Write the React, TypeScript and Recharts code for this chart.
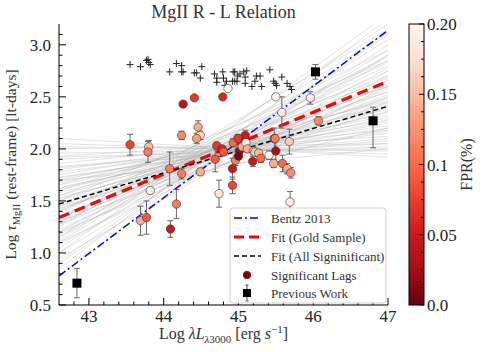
import React from "react";
import { ComposedChart, Line, Scatter, ErrorBar, XAxis, YAxis } from "recharts";

// axis ranges and ticks
const X_DOMAIN = [42.6, 47];
const Y_DOMAIN = [0.5, 3.2];
const X_MAJOR = [43, 44, 45, 46, 47];
const X_TICKS = [
  42.8, 43, 43.2, 43.4, 43.6, 43.8, 44, 44.2, 44.4, 44.6, 44.8, 45, 45.2, 45.4, 45.6, 45.8, 46,
  46.2, 46.4, 46.6, 46.8, 47,
];
const Y_MAJOR = [0.5, 1, 1.5, 2, 2.5, 3];
const Y_TICKS = [
  0.5, 0.6, 0.7, 0.8, 0.9, 1, 1.1, 1.2, 1.3, 1.4, 1.5, 1.6, 1.7, 1.8, 1.9, 2, 2.1, 2.2, 2.3, 2.4,
  2.5, 2.6, 2.7, 2.8, 2.9, 3, 3.1,
];
const CBAR_MAJOR = [0, 0.05, 0.1, 0.15, 0.2];
const CBAR_LABELS = ["0.0", "0.05", "0.1", "0.15", "0.20"];
const CBAR_MINOR = [0.0125, 0.025, 0.0375, 0.0625, 0.075, 0.0875, 0.1125, 0.125, 0.1375, 0.1625, 0.175, 0.1875];

// fit lines: values at the left and right edge of the plot
const LINE_X = [42.6, 47];
const BENTZ = [0.78, 3.14];
const FIT_GOLD = [1.34, 2.65];
const FIT_ALL = [1.47, 2.41];

// bootstrap realisations (grey fan), left / right end values
const BOOT_LEFT = [
  0.85, 0.92, 1.0, 1.05, 1.1, 1.15, 1.2, 1.22, 1.28, 1.3, 1.33, 1.36, 1.4, 1.42, 1.45, 1.48, 1.5,
  1.52, 1.55, 1.58, 1.6, 1.62, 1.65, 1.68, 1.7, 1.72, 1.75, 1.78, 1.8, 1.83, 1.86, 1.9, 1.93, 1.96,
  2.0, 2.05, 2.1, 1.25, 1.15, 0.95, 1.38, 1.5, 1.1, 1.3, 1.6, 1.7, 1.45, 1.2, 1.0, 1.55,
  0.9, 1.08, 1.18, 1.27, 1.35, 1.43, 1.53, 1.63, 1.73, 1.82, 1.92, 2.02, 1.12, 1.4, 1.66, 1.32,
];
const BOOT_RIGHT = [
  3.25, 3.1, 3.3, 2.95, 3.05, 2.85, 2.9, 2.7, 2.8, 2.62, 2.75, 2.55, 2.68, 2.5, 2.6, 2.45, 2.55, 2.4,
  2.48, 2.35, 2.42, 2.3, 2.38, 2.25, 2.32, 2.2, 2.28, 2.15, 2.22, 2.1, 2.18, 2.05, 2.12, 2.0, 2.05,
  1.95, 1.92, 3.15, 3.2, 2.75, 2.95, 2.85, 2.6, 2.4, 2.6, 2.0, 2.2, 2.5, 2.9, 2.7,
  3.0, 2.78, 2.66, 2.58, 2.52, 2.44, 2.36, 2.27, 2.17, 2.08, 2.02, 1.98, 3.12, 2.83, 2.46, 2.88,
];

// significant lags
const LAG_X = [
  44.26, 44.41, 44.79, 44.86, 43.55, 43.8, 43.79, 44.24, 44.46, 44.49, 44.44, 45.09, 43.82, 43.69,
  43.77, 44.09, 44.08, 44.17, 44.24, 44.49, 44.69, 44.71, 44.78, 44.8, 44.74, 44.92, 44.92, 44.93,
  44.96, 44.99, 45.01, 45.0, 45.05, 45.1, 45.12, 45.19, 45.2, 45.22, 45.27, 45.3, 45.41, 45.47,
  45.48, 45.5, 45.59, 45.65, 45.68, 45.7, 45.69, 45.5, 45.58, 45.96, 46.07, 45.49,
];
const LAG_Y = [
  2.43, 2.49, 2.5, 2.58, 2.04, 2.02, 1.97, 2.13, 2.21, 2.13, 2.1, 2.13, 1.6, 1.31, 1.34, 1.23, 1.81,
  1.47, 1.76, 1.78, 1.9, 2.03, 2.0, 1.97, 1.57, 1.81, 1.65, 2.06, 1.89, 2.1, 1.98, 1.93, 2.02, 2.06,
  2.0, 1.88, 1.98, 1.97, 1.96, 1.91, 1.94, 1.86, 2.1, 1.98, 1.86, 1.81, 2.07, 1.77, 1.49, 2.5, 2.35,
  2.49, 2.27, 2.1,
];
const LAG_ERR = [
  0, 0, 0, 0, 0.1, 0.06, 0.1, 0.04, 0.06, 0.04, 0.05, 0.05, 0.03, 0.14, 0.16, 0.08, 0.16, 0.14,
  0.05, 0.03, 0.12, 0.03, 0.03, 0.03, 0.13, 0.1, 0.08, 0.04, 0.05, 0.04, 0.03, 0.03, 0.03, 0.03, 0.03,
  0.05, 0.03, 0.03, 0.03, 0.04, 0.04, 0.04, 0.1, 0.1, 0.08, 0.05, 0.12, 0.05, 0.1, 0, 0.15, 0.06,
  0.04, 0.03,
];
const LAG_FPR = [
  0.04, 0.07, 0.06, 0.2, 0.08, 0.15, 0.11, 0.12, 0.14, 0.17, 0.13, 0.05, 0.19, 0.14, 0.09, 0.05, 0.11,
  0.11, 0.11, 0.14, 0.09, 0.07, 0.06, 0.09, 0.18, 0.05, 0.08, 0.1, 0.11, 0.07, 0.02, 0.01, 0.14, 0.19,
  0.14, 0.05, 0.15, 0.16, 0.15, 0.1, 0.2, 0.14, 0.06, 0.03, 0.1, 0.14, 0.16, 0.12, 0.19, 0.2, 0.19,
  0.19, 0.12, 0.11,
];

// non-significant lags (crosses)
const CROSS_X = [
  43.55, 43.69, 43.77, 43.79, 43.8, 43.82, 44.08, 44.17, 44.24, 44.24, 44.26, 44.41, 44.44, 44.51,
  44.49, 44.68, 44.71, 44.71, 44.79, 44.8, 44.84, 44.92, 44.93, 44.98, 44.99, 45.02, 45.09, 45.11,
  45.09, 44.82, 44.95, 45.07, 44.95, 45.18, 45.24, 45.29, 45.31, 45.22, 45.42, 45.47, 45.58, 45.49,
  45.51, 45.65, 45.69, 45.71,
];
const CROSS_Y = [
  2.81, 2.79, 2.85, 2.86, 2.83, 2.81, 2.74, 2.82, 2.8, 2.74, 2.74, 2.73, 2.73, 2.79, 2.68, 2.72, 2.68,
  2.64, 2.74, 2.68, 2.65, 2.65, 2.74, 2.65, 2.7, 2.72, 2.63, 2.75, 2.69, 2.61, 2.74, 2.74, 2.65, 2.6,
  2.7, 2.7, 2.6, 2.65, 2.76, 2.65, 2.69, 2.63, 2.61, 2.63, 2.6, 2.57,
];

// previous work
const PREV_X = [42.84, 46.03, 46.8];
const PREV_Y = [0.71, 2.74, 2.27];
const PREV_ERR: (number | number[])[] = [0.14, 0.07, [0.26, 0.13]];

const REDS = ["#fff5f0", "#fee0d2", "#fcbba1", "#fc9272", "#fb6a4a", "#ef3b2c", "#cb181d", "#a50f15", "#67000d"];

function hex(c: string) {
  return [1, 3, 5].map((i) => parseInt(c.slice(i, i + 2), 16));
}

function cmap(fpr: number) {
  const t = Math.min(1, Math.max(0, 1 - fpr / 0.2)) * (REDS.length - 1);
  const i = Math.min(REDS.length - 2, Math.floor(t));
  const f = t - i;
  const a = hex(REDS[i]);
  const b = hex(REDS[i + 1]);
  const m = a.map((v, k) => Math.round(v + (b[k] - v) * f));
  return `rgb(${m[0]},${m[1]},${m[2]})`;
}

const FONT = "Liberation Serif, DejaVu Serif, serif";
const txt = (size: number) => ({ fontFamily: FONT, fontSize: size });

const lineData = (v: number[]) => LINE_X.map((x, i) => ({ x, y: v[i] }));
const bootLines = BOOT_LEFT.map((l, i) => lineData([l, BOOT_RIGHT[i]]));
const lags = LAG_X.map((x, i) => ({ x, y: LAG_Y[i], err: LAG_ERR[i], fpr: LAG_FPR[i] }));
const crosses = CROSS_X.map((x, i) => ({ x, y: CROSS_Y[i] }));
const prev = PREV_X.map((x, i) => ({ x, y: PREV_Y[i], err: PREV_ERR[i] }));

const fmtY = (v: number) => v.toFixed(1);

function BottomTick(p: any) {
  const v = p.payload.value;
  const major = X_MAJOR.includes(v);
  return (
    <g>
      <line x1={p.x} x2={p.x} y1={p.y} y2={p.y - (major ? 7 : 3.5)} stroke="#000" />
      {major && (
        <text x={p.x} y={p.y + 17} textAnchor="middle" style={txt(17)} fill="#222">
          {v}
        </text>
      )}
    </g>
  );
}

function TopTick(p: any) {
  const major = X_MAJOR.includes(p.payload.value);
  return <line x1={p.x} x2={p.x} y1={p.y} y2={p.y + (major ? 7 : 3.5)} stroke="#000" />;
}

function LeftTick(p: any) {
  const v = p.payload.value;
  const major = Y_MAJOR.some((m) => Math.abs(m - v) < 1e-6);
  return (
    <g>
      <line x1={p.x} x2={p.x + (major ? 7 : 3.5)} y1={p.y} y2={p.y} stroke="#000" />
      {major && (
        <text x={p.x - 8} y={p.y + 6} textAnchor="end" style={txt(17)} fill="#222">
          {fmtY(v)}
        </text>
      )}
    </g>
  );
}

function RightTick(p: any) {
  const v = p.payload.value;
  const major = Y_MAJOR.some((m) => Math.abs(m - v) < 1e-6);
  return <line x1={p.x} x2={p.x - (major ? 7 : 3.5)} y1={p.y} y2={p.y} stroke="#000" />;
}

const Dot = (p: any) => (
  <circle cx={p.cx} cy={p.cy} r={4.2} fill={cmap(p.payload.fpr)} stroke="#333" strokeWidth={0.6} />
);
const Cross = (p: any) => (
  <path d={`M${p.cx - 3.5},${p.cy}h7M${p.cx},${p.cy - 3.5}v7`} stroke="#222" strokeWidth={1} />
);
const Square = (p: any) => <rect x={p.cx - 4.5} y={p.cy - 4.5} width={9} height={9} fill="#000" />;

// plot box
const L = 59;
const R = 388;
const T = 24;
const B = 305;
const W = 491;
const H = 352;

// colorbar box
const CB_X = 409;
const CB_W = 15;
const cbY = (v: number) => B - (v / 0.2) * (B - T);

function Overlay() {
  const leg = [218, 237, 256, 275, 293];
  return (
    <svg width={W} height={H} style={{ position: "absolute", left: 0, top: 0, pointerEvents: "none" }}>
      <defs>
        <linearGradient id="cbar" x1="0" y1="1" x2="0" y2="0">
          {REDS.slice()
            .reverse()
            .map((c, i) => (
              <stop key={i} offset={`${(i / (REDS.length - 1)) * 100}%`} stopColor={c} />
            ))}
        </linearGradient>
      </defs>
      <text x={(L + R) / 2} y={18} textAnchor="middle" style={txt(18)} fill="#333">
        MgII R - L Relation
      </text>
      <text x={(L + R) / 2} y={339} textAnchor="middle" style={txt(16)} fill="#333">
        Log <tspan fontStyle="italic">λL</tspan>
        <tspan fontSize={11} dy={4}>
          <tspan fontStyle="italic">λ</tspan>3000
        </tspan>
        <tspan dy={-4}> [erg </tspan>
        <tspan fontStyle="italic">s</tspan>
        <tspan fontSize={11} dy={-6}>−1</tspan>
        <tspan dy={6}>]</tspan>
      </text>
      <text
        transform={`translate(16,${(T + B) / 2}) rotate(-90)`}
        textAnchor="middle"
        style={txt(15.5)}
        fill="#333"
      >
        Log <tspan fontStyle="italic">τ</tspan>
        <tspan fontSize={10.5} dy={4}>MgII</tspan>
        <tspan dy={-4}> (rest-frame) [lt-days]</tspan>
      </text>

      {/* colorbar */}
      <rect x={CB_X} y={T} width={CB_W} height={B - T} fill="url(#cbar)" stroke="#000" strokeWidth={1} />
      {CBAR_MINOR.map((v) => (
        <line key={v} x1={CB_X + CB_W} x2={CB_X + CB_W - 3} y1={cbY(v)} y2={cbY(v)} stroke="#000" />
      ))}
      {CBAR_MAJOR.map((v, i) => (
        <g key={v}>
          <line x1={CB_X + CB_W} x2={CB_X + CB_W - 5} y1={cbY(v)} y2={cbY(v)} stroke="#000" />
          <text x={CB_X + CB_W + 3} y={cbY(v) + 6} style={txt(17)} fill="#222">
            {CBAR_LABELS[i]}
          </text>
        </g>
      ))}
      <text
        transform={`translate(472,${(T + B) / 2}) rotate(-90)`}
        textAnchor="middle"
        style={txt(16)}
        fill="#333"
      >
        FPR(%)
      </text>

      {/* legend */}
      <rect x={230} y={208} width={156} height={95} rx={3} fill="#fff" fillOpacity={0.88} stroke="#d0d0d0" />
      <line x1={234} x2={261} y1={leg[0]} y2={leg[0]} stroke="#0000ff" strokeWidth={1.5} strokeDasharray="8 3 2 3" />
      <line x1={234} x2={261} y1={leg[1]} y2={leg[1]} stroke="#ff0000" strokeWidth={3} strokeDasharray="10 5" />
      <line x1={234} x2={261} y1={leg[2]} y2={leg[2]} stroke="#000" strokeWidth={1.5} strokeDasharray="5 3" />
      <circle cx={247} cy={leg[3]} r={4} fill="#7a0a10" />
      <line x1={247} x2={247} y1={leg[4] - 8} y2={leg[4] + 8} stroke="#555" />
      <line x1={245.5} x2={248.5} y1={leg[4] - 8} y2={leg[4] - 8} stroke="#555" />
      <line x1={245.5} x2={248.5} y1={leg[4] + 8} y2={leg[4] + 8} stroke="#555" />
      <rect x={243} y={leg[4] - 4} width={8} height={8} fill="#000" />
      {["Bentz 2013", "Fit (Gold Sample)", "Fit (All Signinificant)", "Significant Lags", "Previous Work"].map(
        (t, i) => (
          <text key={t} x={271} y={leg[i] + 4.5} style={txt(13)} fill="#333">
            {t}
          </text>
        )
      )}
    </svg>
  );
}

export default function App() {
  return (
    <div style={{ position: "absolute", left: 0, top: 0, width: W, height: H, background: "#fff" }}>
      <ComposedChart width={W} height={H} margin={{ top: T, right: W - R, bottom: 0, left: 0 }}>
        <XAxis
          type="number"
          dataKey="x"
          domain={X_DOMAIN}
          ticks={X_TICKS}
          interval={0}
          allowDataOverflow
          height={H - B}
          tickSize={0}
          tickMargin={0}
          axisLine={{ stroke: "#000" }}
          tick={BottomTick}
        />
        <XAxis
          xAxisId="top"
          orientation="top"
          type="number"
          dataKey="x"
          domain={X_DOMAIN}
          ticks={X_TICKS}
          interval={0}
          allowDataOverflow
          height={0}
          tickSize={0}
          tickMargin={0}
          axisLine={{ stroke: "#000" }}
          tick={TopTick}
        />
        <YAxis
          type="number"
          dataKey="y"
          domain={Y_DOMAIN}
          ticks={Y_TICKS}
          interval={0}
          allowDataOverflow
          width={L}
          tickSize={0}
          tickMargin={0}
          axisLine={{ stroke: "#000" }}
          tick={LeftTick}
        />
        <YAxis
          yAxisId="right"
          orientation="right"
          type="number"
          dataKey="y"
          domain={Y_DOMAIN}
          ticks={Y_TICKS}
          interval={0}
          allowDataOverflow
          width={0}
          tickSize={0}
          tickMargin={0}
          axisLine={{ stroke: "#000" }}
          tick={RightTick}
        />

        {bootLines.map((d, i) => (
          <Line
            key={`b${i}`}
            data={d}
            dataKey="y"
            type="linear"
            stroke="#b0b0b0"
            strokeOpacity={0.45}
            strokeWidth={0.8}
            dot={false}
            activeDot={false}
            isAnimationActive={false}
          />
        ))}
        <Line data={lineData(BENTZ)} dataKey="y" type="linear" stroke="#0000ff" strokeWidth={1.5} strokeDasharray="8 3 2 3" dot={false} isAnimationActive={false} />
        <Line data={lineData(FIT_GOLD)} dataKey="y" type="linear" stroke="#ff0000" strokeWidth={3.2} strokeDasharray="11 6" dot={false} isAnimationActive={false} />
        <Line data={lineData(FIT_ALL)} dataKey="y" type="linear" stroke="#000" strokeWidth={1.5} strokeDasharray="5 3" dot={false} isAnimationActive={false} />

        <Scatter data={crosses} shape={Cross} isAnimationActive={false} />
        <Scatter data={prev} shape={Square} isAnimationActive={false}>
          <ErrorBar dataKey="err" direction="y" width={3} stroke="#666" strokeWidth={1} />
        </Scatter>
        <Scatter data={lags} shape={Dot} isAnimationActive={false}>
          <ErrorBar dataKey="err" direction="y" width={3} stroke="#666" strokeWidth={1} />
        </Scatter>
      </ComposedChart>
      <Overlay />
    </div>
  );
}
